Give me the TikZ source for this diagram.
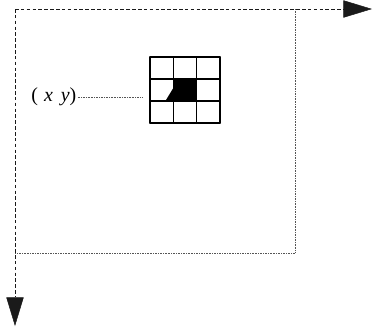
\documentclass[tikz,border=0pt]{standalone}
\usepackage{fontspec}
\setmainfont{Liberation Serif}
\usepackage{tikz}
\usetikzlibrary{arrows.meta,positioning,calc}
\definecolor{axisInk}{HTML}{1A1A1A}
\definecolor{frameInk}{HTML}{555555}

\begin{document}
\begin{tikzpicture}[x=0.03cm, y=-0.03cm,
  axisline/.style={densely dashed, thin, draw=axisInk, -{Triangle[length=8.6mm,width=5.2mm]}},
  frameline/.style={densely dotted, thin, draw=frameInk},
  gridline/.style={line width=1.2pt, line cap=round}]
  \useasboundingbox (0,0) rectangle (373,327);
  % image axes
  \coordinate (origin) at (15,9);
  \coordinate (xend) at (372,9);
  \coordinate (yend) at (15,326);
  \draw[axisline] (origin) -- (xend);
  \draw[axisline] (origin) -- (yend);
  \coordinate (corner) at (295,253);
  \draw[frameline] (origin -| corner) -- (corner) -- (origin |- corner);
  % 3x3 neighbourhood
  \fill (173.3,79) rectangle (196.6,101);
  \fill (166,100) -- (173.3,88) -- (173.3,100) -- cycle;
  \foreach \i in {0,...,3} {
    \draw[gridline] (150+23.3*\i,57) -- (150+23.3*\i,123);
    \draw[gridline] (150,57+22*\i) -- (220,57+22*\i);
  }
  \node[font=\fontsize{17}{20}\selectfont, anchor=west, inner sep=1pt] (pxlabel) at (30,97)
    {(\hspace{0.3em}\textit{x}\hspace{0.4em}\textit{y})};
  \coordinate (pixtip) at (142,97);
  \draw[frameline] (pxlabel) -- (pixtip);
\end{tikzpicture}
\end{document}
